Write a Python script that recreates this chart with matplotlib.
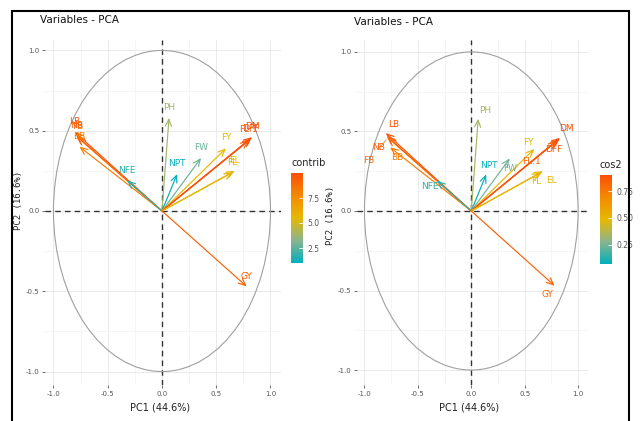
import matplotlib
matplotlib.use("Agg")
import matplotlib.pyplot as plt
import numpy as np
from matplotlib.colors import LinearSegmentedColormap, Normalize
from matplotlib.patches import Ellipse, Rectangle
import matplotlib.colorbar as mcolorbar

# ---------------- data ----------------
variables = ["LB", "NB", "FB", "BB", "NFE", "PH", "NPT", "FW", "FY",
             "FL.1", "DFF", "DM", "FL", "EL", "GY"]
pc1 = [-0.80, -0.79, -0.78, -0.76, -0.32, 0.065, 0.14, 0.36, 0.59,
       0.80, 0.82, 0.83, 0.65, 0.67, 0.78]
pc2 = [0.49, 0.47, 0.46, 0.40, 0.19, 0.58, 0.23, 0.33, 0.39,
       0.44, 0.45, 0.46, 0.24, 0.25, -0.47]
contrib = [9.8, 9.5, 9.1, 8.2, 1.6, 3.8, 1.0, 2.7, 5.5,
           9.2, 9.7, 10.0, 5.3, 5.7, 9.2]
cos2 = [0.88, 0.85, 0.82, 0.74, 0.14, 0.34, 0.07, 0.24, 0.50,
        0.83, 0.87, 0.90, 0.48, 0.51, 0.83]
contrib_ticks = [2.5, 5.0, 7.5]
cos2_ticks = [0.25, 0.50, 0.75]
axis_ticks = [-1.0, -0.5, 0.0, 0.5, 1.0]
xlab = "PC1 (44.6%)"
ylab = "PC2 (16.6%)"
title = "Variables - PCA"

# label offsets (points) for the repelled right panel
right_offsets = {
    "LB": (6, 6.5), "NB": (-6, -8), "FB": (-14, -16.5), "BB": (5, -7),
    "NFE": (-5, -4), "PH": (5, 6), "NPT": (2, 6.5), "FW": (0, -7),
    "FY": (-4, 5), "FL.1": (-18, -15), "DFF": (-3.5, -7), "DM": (4.5, 6.5),
    "FL": (-3, -6.5), "EL": (6.5, -7), "GY": (-5, -6.5),
}
seg_labels = {"FB", "FL.1", "DFF"}

NARROW = ["Liberation Sans Narrow", "DejaVu Sans"]
# gradient teal -> yellow -> orange-red, with Lab-like midpoints (as ggplot)
cmap = LinearSegmentedColormap.from_list(
    "fx", [(0.0, "#00AFBB"), (0.25, "#8AB48E"), (0.5, "#E7B800"),
           (0.75, "#F48A00"), (1.0, "#FC4E07")])

W, H = 642, 421
fig = plt.figure(figsize=(W / 100, H / 100), dpi=100)


def fx(px):
    return px / W


def fy(py):
    return 1 - py / H


def setup_axes(ax, xlim, ylim):
    ax.set_xlim(*xlim)
    ax.set_ylim(*ylim)
    for s in ax.spines.values():
        s.set_visible(False)
    ax.set_xticks(axis_ticks)
    ax.set_yticks(axis_ticks)
    ax.set_xticks([-0.75, -0.25, 0.25, 0.75], minor=True)
    ax.set_yticks([-0.75, -0.25, 0.25, 0.75], minor=True)
    ax.grid(True, which="major", color="#e6e6e6", lw=0.6)
    ax.grid(True, which="minor", color="#f2f2f2", lw=0.5)
    ax.set_axisbelow(True)
    ax.tick_params(which="major", length=2, width=0.6, color="#555555",
                   labelsize=5, labelcolor="#555555", pad=2)
    ax.tick_params(which="minor", length=0)
    ax.set_xticklabels([f"{t:.1f}" for t in axis_ticks], family=NARROW)
    ax.set_yticklabels([f"{t:.1f}" for t in axis_ticks], family=NARROW)
    ax.axhline(0, color="#333333", ls=(0, (4, 3)), lw=1.0, zorder=1)
    ax.axvline(0, color="#333333", ls=(0, (4, 3)), lw=1.0, zorder=1)
    ax.add_patch(Ellipse((0, 0), 2, 2, fill=False, ec="#a0a0a0", lw=0.8, zorder=1))


def draw_arrows(ax, values, norm):
    for name, x, y, v in zip(variables, pc1, pc2, values):
        c = cmap(norm(v))
        ax.annotate("", xy=(x, y), xytext=(0, 0),
                    arrowprops=dict(arrowstyle="->,head_length=0.5,head_width=0.22",
                                    color=c, lw=0.85, shrinkA=0, shrinkB=0),
                    zorder=3)


# ---------------- left panel (contrib) ----------------
axL = fig.add_axes([fx(45), fy(385), fx(281 - 45), (385 - 40) / H])
setup_axes(axL, (-1.078, 1.097), (-1.084, 1.065))
normL = Normalize(min(contrib), max(contrib))
draw_arrows(axL, contrib, normL)
for name, x, y, v in zip(variables, pc1, pc2, contrib):
    axL.annotate(name, (x, y), xytext=(0, 7.5), textcoords="offset points",
                 ha="center", va="center", fontsize=6.5, family=NARROW,
                 color=cmap(normL(v)), zorder=4)

# ---------------- right panel (cos2) ----------------
axR = fig.add_axes([fx(357), fy(385), fx(588 - 357), (385 - 40) / H])
setup_axes(axR, (-1.07, 1.093), (-1.094, 1.075))
normR = Normalize(min(cos2), max(cos2))
draw_arrows(axR, cos2, normR)
for name, x, y, v in zip(variables, pc1, pc2, cos2):
    c = cmap(normR(v))
    off = right_offsets[name]
    if name in seg_labels:
        axR.annotate(name, (x, y), xytext=off, textcoords="offset points",
                     ha="center", va="center", fontsize=6.5, family=NARROW,
                     color=c, zorder=4,
                     arrowprops=dict(arrowstyle="-", color=c, lw=0.5,
                                     shrinkA=4, shrinkB=2))
    else:
        axR.annotate(name, (x, y), xytext=off, textcoords="offset points",
                     ha="center", va="center", fontsize=6.5, family=NARROW,
                     color=c, zorder=4)

# ---------------- colorbars ----------------
def add_cbar(x0, y_top, y_bot, norm, ticks, fmt, label, label_y):
    cax = fig.add_axes([fx(x0), fy(y_bot), fx(12), (y_bot - y_top) / H])
    cb = mcolorbar.ColorbarBase(cax, cmap=cmap, norm=norm, orientation="vertical")
    cb.outline.set_visible(False)
    cb.set_ticks(ticks)
    cb.set_ticklabels([fmt.format(t) for t in ticks])
    cax.tick_params(length=3, width=0.6, color="white", direction="in",
                    labelsize=5.5, labelcolor="#555555", pad=3)
    for t in cax.get_yticklabels():
        t.set_family(NARROW)
    fig.text(fx(x0), fy(label_y), label, fontsize=7, family=NARROW,
             color="#222222", ha="left", va="center")


add_cbar(291, 173, 263, normL, contrib_ticks, "{:.1f}", "contrib", 163)
add_cbar(600, 175, 264, normR, cos2_ticks, "{:.2f}", "cos2", 165)

# ---------------- titles & axis labels ----------------
fig.text(fx(40), fy(20), title, fontsize=7.5, family=NARROW, ha="left", va="center",
         color="#111111")
fig.text(fx(354), fy(22), title, fontsize=7.5, family=NARROW, ha="left", va="center",
         color="#111111")
fig.text(fx(160), fy(408), xlab, fontsize=7, family=NARROW, ha="center", va="center",
         color="#222222")
fig.text(fx(469), fy(408), xlab, fontsize=7, family=NARROW, ha="center", va="center",
         color="#222222")
fig.text(fx(19), fy(200), ylab, fontsize=6.5, family="DejaVu Sans Mono", rotation=90,
         ha="center", va="center", color="#222222")
fig.text(fx(331), fy(215), ylab, fontsize=6.5, family="DejaVu Sans Mono", rotation=90,
         ha="center", va="center", color="#222222")

# outer frame
fig.add_artist(Rectangle((fx(12), -0.02), fx(629 - 12), fy(11) + 0.02,
                         transform=fig.transFigure, fill=False, ec="black", lw=1.5))

fig.savefig("out.png", dpi=100)
